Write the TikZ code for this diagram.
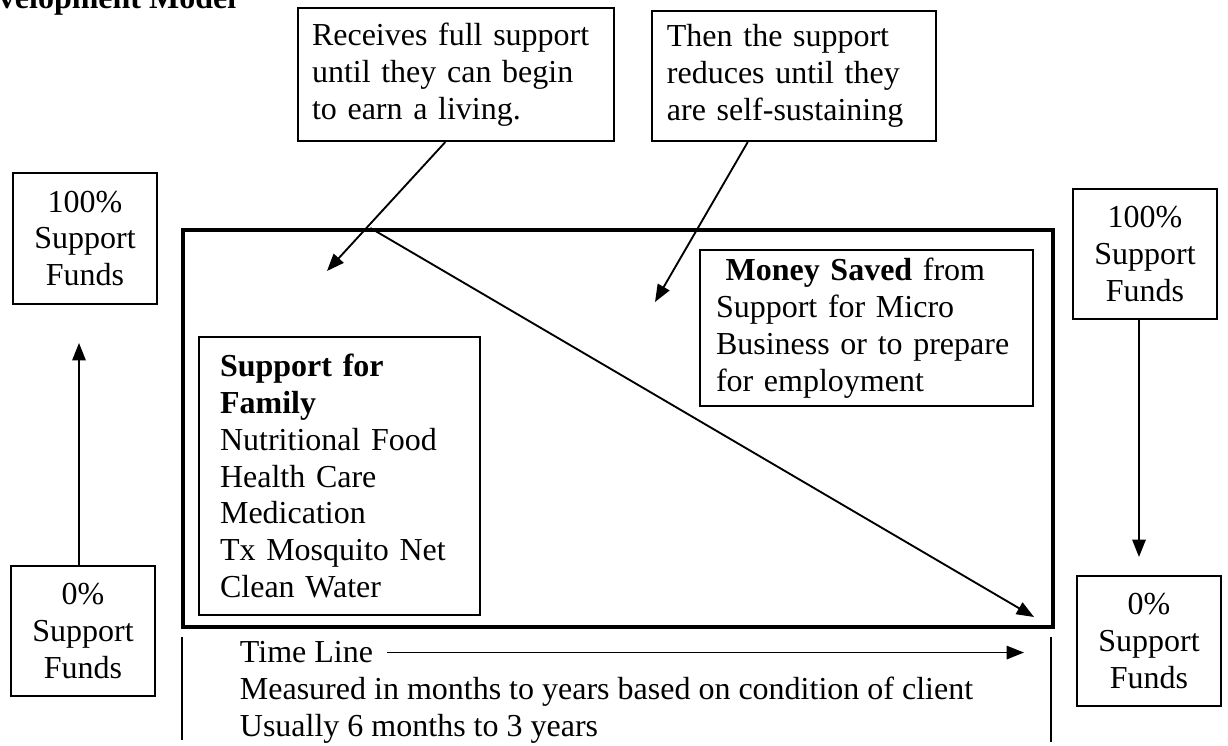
\documentclass[tikz,border=0pt]{standalone}
\usepackage{fontspec}
\setmainfont{Liberation Serif}
\usetikzlibrary{arrows.meta, positioning}

\tikzset{
  txt/.style={font=\fontsize{12}{13.8}\selectfont, inner sep=0pt},
  fundbox/.style={txt, draw, line width=0.75pt, align=center, minimum width=54pt, minimum height=49.1pt},
  notebox/.style={txt, draw, line width=0.75pt, align=left, anchor=north west},
}

\begin{document}
\begin{tikzpicture}[x=0.375pt, y=-0.375pt, >={Triangle[length=6.5pt, width=5pt]}, line width=0.7pt]
\useasboundingbox (0,0) rectangle (1228,746);
\clip (0,0) rectangle (1228,746);

% heading, cut at the page edge
\node[txt, anchor=base west, font=\fontsize{12}{13.8}\selectfont\bfseries] (title) at (-2,9) {velopment Model};

% callouts
\node[notebox, inner xsep=5.25pt, text width=108pt, minimum height=49.9pt] (fullsup) at (297,7)
  {Receives full support\\until they can begin\\to earn a living.};
\node[notebox, inner xsep=5.6pt, text width=95.3pt, minimum height=48.75pt] (reduce) at (651,10)
  {Then the support\\reduces until they\\are self-sustaining};

% main frame and what is inside it
\node[draw, line width=1.5pt, anchor=north west, minimum width=326.25pt, minimum height=148.9pt, inner sep=0pt] (main) at (181,228) {};
\node[notebox, inner xsep=7.9pt, text width=89.6pt, minimum height=104.25pt] (family) at (198,336)
  {\textbf{Support for}\\\textbf{Family}\\Nutritional Food\\Health Care\\Medication\\Tx Mosquito Net\\Clean Water};
\node[notebox, inner xsep=6pt, text width=112.9pt, minimum height=58.5pt] (saved) at (699,249)
  {\hyphenpenalty=10000\hspace*{0.3em}\textbf{Money Saved} from\\Support for Micro\\Business or to prepare\\for employment};

% support levels
\node[fundbox] (fullL) at (85,238.5) {100\%\\Support\\Funds};
\node[fundbox] (zeroL) at (83,631) {0\%\\Support\\Funds};
\node[fundbox] (fullR) at (1145,254) {100\%\\Support\\Funds};
\node[fundbox] (zeroR) at (1149,641) {0\%\\Support\\Funds};

% time line
\node[txt, anchor=base west] (timeline) at (239,663) {Time Line};
\node[txt, anchor=base west] (measured) at (239,700) {Measured in months to years based on condition of client};
\node[txt, anchor=base west] (usually) at (239,737) {Usually 6 months to 3 years};

\coordinate (fullend) at (327,271);
\coordinate (reduceend) at (655,302);
\coordinate (diagend) at (1034,617);
\coordinate (upend) at (79,343);
\coordinate (downend) at (1139,557);
\coordinate (timeend) at (1024,0);

\draw[->] (fullsup.-99) -- (fullend);
\draw[->] (reduce.-125) -- (reduceend);
\draw[->] (main.141.7) -- (diagend);
\draw[->] (zeroL.north -| upend) -- (upend);
\draw[->] (fullR.south -| downend) -- (downend);
\draw[->] ([xshift=5pt]timeline.east) -- (timeline.east -| timeend);

\draw[line width=0.75pt] (182,637) -- (182,740) (1051,637) -- (1051,742);
\end{tikzpicture}
\end{document}
